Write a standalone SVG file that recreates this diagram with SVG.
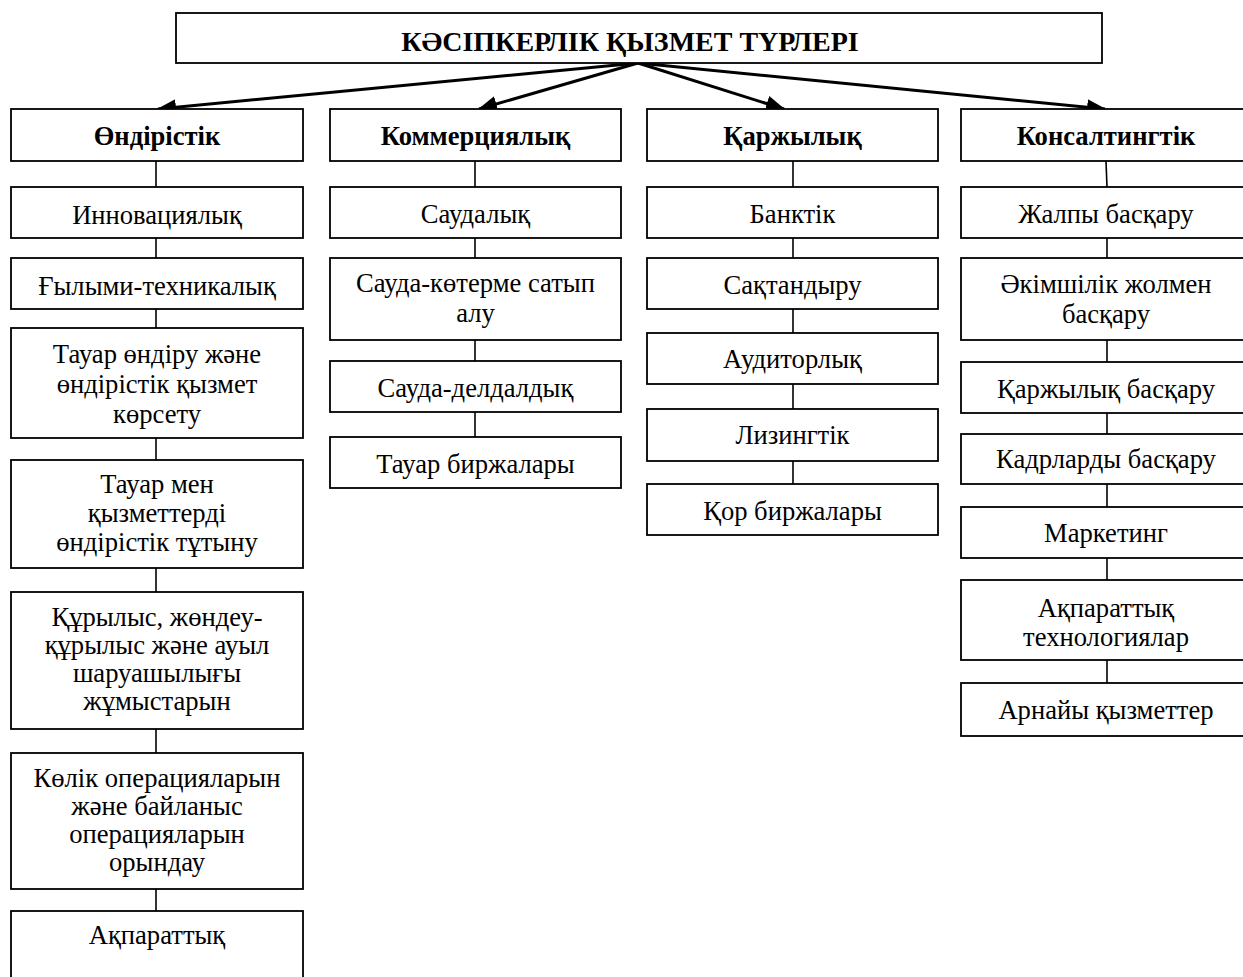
<svg xmlns="http://www.w3.org/2000/svg" width="1243" height="977" viewBox="0 0 1243 977">
<defs>
<style>
.box{fill:#fff;stroke:#000;stroke-width:1.8}
.t{font-family:"Liberation Serif","Times New Roman",serif;font-size:26.6px;fill:#000;text-anchor:middle}
.b{font-weight:bold}
.ttl{font-family:"Liberation Serif","Times New Roman",serif;font-size:28px;font-weight:bold;fill:#000;text-anchor:middle}
.arr{stroke:#000;stroke-width:3;fill:none;marker-end:url(#ah)}
.ln{stroke:#000;stroke-width:1.6;fill:none}
</style>
<marker id="ah" markerUnits="userSpaceOnUse" markerWidth="20" markerHeight="16" refX="18" refY="8" orient="auto">
<path d="M0,0 L19,8 L0,16 Z" fill="#000"/>
</marker>
</defs>
<rect width="1243" height="977" fill="#fff"/>

<g id="connectors">
<line class="arr" x1="638" y1="63" x2="158" y2="109"/>
<line class="arr" x1="638" y1="63" x2="479" y2="109"/>
<line class="arr" x1="638" y1="63" x2="784" y2="109"/>
<line class="arr" x1="638" y1="63" x2="1105" y2="109"/>
<line class="ln" x1="156" y1="161" x2="156" y2="187"/>
<line class="ln" x1="156" y1="238" x2="156" y2="258"/>
<line class="ln" x1="156" y1="309" x2="156" y2="328"/>
<line class="ln" x1="156" y1="438" x2="156" y2="460"/>
<line class="ln" x1="156" y1="568" x2="156" y2="592"/>
<line class="ln" x1="156" y1="729" x2="156" y2="753"/>
<line class="ln" x1="156" y1="889" x2="156" y2="911"/>
<line class="ln" x1="475" y1="161" x2="475" y2="187"/>
<line class="ln" x1="475" y1="238" x2="475" y2="258"/>
<line class="ln" x1="475" y1="340" x2="475" y2="361"/>
<line class="ln" x1="475" y1="412" x2="475" y2="437"/>
<line class="ln" x1="793" y1="161" x2="793" y2="187"/>
<line class="ln" x1="793" y1="238" x2="793" y2="258"/>
<line class="ln" x1="793" y1="309" x2="793" y2="333"/>
<line class="ln" x1="793" y1="384" x2="793" y2="409"/>
<line class="ln" x1="793" y1="461" x2="793" y2="484"/>
<line class="ln" x1="1106" y1="161" x2="1107" y2="187"/>
<line class="ln" x1="1107" y1="238" x2="1107" y2="258"/>
<line class="ln" x1="1107" y1="340" x2="1107" y2="362"/>
<line class="ln" x1="1107" y1="413" x2="1107" y2="434"/>
<line class="ln" x1="1107" y1="484" x2="1107" y2="507"/>
<line class="ln" x1="1107" y1="558" x2="1107" y2="580"/>
<line class="ln" x1="1107" y1="660" x2="1107" y2="683"/>
</g>

<g id="title"><rect class="box" x="176" y="13" width="926" height="50"/><text class="ttl" x="630" y="51">КӘСІПКЕРЛІК ҚЫЗМЕТ ТҮРЛЕРІ</text></g>

<g id="ondiristik"><rect class="box" x="11" y="109" width="292" height="52"/><text class="t b" x="157" y="145">Өндірістік</text></g>
<g id="innovaciyalyk"><rect class="box" x="11" y="187" width="292" height="51"/><text class="t" x="157" y="224">Инновациялық</text></g>
<g id="gylymi"><rect class="box" x="11" y="258" width="292" height="51"/><text class="t" x="157" y="295">Ғылыми-техникалық</text></g>
<g id="tauar-ondiru"><rect class="box" x="11" y="328" width="292" height="110"/><text class="t" x="157" y="363">Тауар өндіру және</text><text class="t" x="157" y="393">өндірістік қызмет</text><text class="t" x="157" y="423">көрсету</text></g>
<g id="tauar-men"><rect class="box" x="11" y="460" width="292" height="108"/><text class="t" x="157" y="493">Тауар мен</text><text class="t" x="157" y="522">қызметтерді</text><text class="t" x="157" y="551">өндірістік тұтыну</text></g>
<g id="qurylys"><rect class="box" x="11" y="592" width="292" height="137"/><text class="t" x="157" y="626">Құрылыс, жөндеу-</text><text class="t" x="157" y="654">құрылыс және ауыл</text><text class="t" x="157" y="682">шаруашылығы</text><text class="t" x="157" y="710">жұмыстарын</text></g>
<g id="kolik"><rect class="box" x="11" y="753" width="292" height="136"/><text class="t" x="157" y="787">Көлік операцияларын</text><text class="t" x="157" y="815">және байланыс</text><text class="t" x="157" y="843">операцияларын</text><text class="t" x="157" y="871">орындау</text></g>
<g id="aqparattyq1"><rect class="box" x="11" y="911" width="292" height="80"/><text class="t" x="157" y="944">Ақпараттық</text></g>

<g id="kommerciyalyk"><rect class="box" x="330" y="109" width="291" height="52"/><text class="t b" x="475.5" y="145">Коммерциялық</text></g>
<g id="saudalyq"><rect class="box" x="330" y="187" width="291" height="51"/><text class="t" x="475.5" y="223">Саудалық</text></g>
<g id="sauda-koterme"><rect class="box" x="330" y="258" width="291" height="82"/><text class="t" x="475.5" y="292">Сауда-көтерме сатып</text><text class="t" x="475.5" y="322">алу</text></g>
<g id="sauda-deldaldyq"><rect class="box" x="330" y="361" width="291" height="51"/><text class="t" x="475.5" y="397">Сауда-делдалдық</text></g>
<g id="tauar-birzhalary"><rect class="box" x="330" y="437" width="291" height="51"/><text class="t" x="475.5" y="473">Тауар биржалары</text></g>

<g id="qarzhylyq"><rect class="box" x="647" y="109" width="291" height="52"/><text class="t b" x="792.5" y="145">Қаржылық</text></g>
<g id="banktik"><rect class="box" x="647" y="187" width="291" height="51"/><text class="t" x="792.5" y="223">Банктік</text></g>
<g id="saqtandyru"><rect class="box" x="647" y="258" width="291" height="51"/><text class="t" x="792.5" y="294">Сақтандыру</text></g>
<g id="auditorlyq"><rect class="box" x="647" y="333" width="291" height="51"/><text class="t" x="792.5" y="368">Аудиторлық</text></g>
<g id="lizingtik"><rect class="box" x="647" y="409" width="291" height="52"/><text class="t" x="792.5" y="444">Лизингтік</text></g>
<g id="qor-birzhalary"><rect class="box" x="647" y="484" width="291" height="51"/><text class="t" x="792.5" y="520">Қор биржалары</text></g>

<g id="konsaltingtik"><rect class="box" x="961" y="109" width="290" height="52"/><text class="t b" x="1106" y="145">Консалтингтік</text></g>
<g id="zhalpy"><rect class="box" x="961" y="187" width="290" height="51"/><text class="t" x="1106" y="223">Жалпы басқару</text></g>
<g id="akimshilik"><rect class="box" x="961" y="258" width="290" height="82"/><text class="t" x="1106" y="293">Әкімшілік жолмен</text><text class="t" x="1106" y="323">басқару</text></g>
<g id="qarzhylyq-basqaru"><rect class="box" x="961" y="362" width="290" height="51"/><text class="t" x="1106" y="398">Қаржылық басқару</text></g>
<g id="kadrlardy"><rect class="box" x="961" y="434" width="290" height="50"/><text class="t" x="1106" y="468">Кадрларды басқару</text></g>
<g id="marketing"><rect class="box" x="961" y="507" width="290" height="51"/><text class="t" x="1106" y="542">Маркетинг</text></g>
<g id="aqparattyq-tech"><rect class="box" x="961" y="580" width="290" height="80"/><text class="t" x="1106" y="617">Ақпараттық</text><text class="t" x="1106" y="646">технологиялар</text></g>
<g id="arnayy"><rect class="box" x="961" y="683" width="290" height="53"/><text class="t" x="1106" y="719">Арнайы қызметтер</text></g>
</svg>
